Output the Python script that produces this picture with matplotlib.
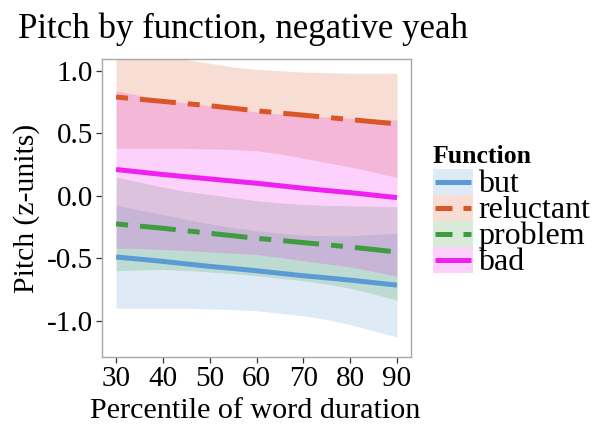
import matplotlib
matplotlib.use("Agg")
import matplotlib.pyplot as plt
from matplotlib.patches import Rectangle
from matplotlib.lines import Line2D

plt.rcParams["font.family"] = ["Liberation Serif", "DejaVu Serif"]

# Percentile of word duration
x = [30, 35, 40, 45, 50, 55, 60, 65, 70, 75, 80, 85, 90]

functions = ["but", "reluctant", "problem", "bad"]

# Fitted pitch (z-units)
fit_but = [-0.49, -0.507, -0.525, -0.545, -0.565, -0.582, -0.60, -0.62,
           -0.64, -0.657, -0.675, -0.695, -0.715]
fit_reluctant = [0.79, 0.772, 0.755, 0.737, 0.72, 0.70, 0.68, 0.662,
                 0.645, 0.627, 0.61, 0.592, 0.575]
fit_problem = [-0.225, -0.243, -0.26, -0.28, -0.30, -0.32, -0.34, -0.357,
               -0.375, -0.392, -0.41, -0.43, -0.45]
fit_bad = [0.21, 0.19, 0.17, 0.152, 0.135, 0.117, 0.10, 0.08, 0.06,
           0.042, 0.025, 0.005, -0.015]

# Confidence band limits
lo_but = [-0.90, -0.90, -0.90, -0.90, -0.905, -0.91, -0.92, -0.94, -0.96,
          -0.99, -1.03, -1.08, -1.13]
hi_but = [-0.075, -0.115, -0.15, -0.19, -0.225, -0.255, -0.28, -0.30,
          -0.315, -0.32, -0.32, -0.31, -0.30]
lo_reluctant = [0.38, 0.38, 0.38, 0.378, 0.375, 0.37, 0.36, 0.335, 0.30,
                0.265, 0.23, 0.19, 0.145]
hi_reluctant = [1.20, 1.16, 1.12, 1.09, 1.06, 1.03, 1.01, 1.00, 0.99,
                0.985, 0.98, 0.98, 0.98]
lo_problem = [-0.60, -0.593, -0.59, -0.597, -0.61, -0.623, -0.64, -0.66,
              -0.68, -0.707, -0.74, -0.785, -0.835]
hi_problem = [0.15, 0.11, 0.07, 0.035, 0.01, -0.015, -0.04, -0.057, -0.07,
              -0.077, -0.08, -0.084, -0.088]
lo_bad = [-0.42, -0.422, -0.43, -0.438, -0.45, -0.46, -0.47, -0.493, -0.52,
          -0.545, -0.57, -0.605, -0.645]
hi_bad = [0.84, 0.803, 0.77, 0.743, 0.72, 0.695, 0.67, 0.653, 0.64, 0.63,
          0.62, 0.612, 0.605]

x_ticks = [30, 40, 50, 60, 70, 80, 90]
y_ticks = [-1.0, -0.5, 0.0, 0.5, 1.0]

fits = [fit_but, fit_reluctant, fit_problem, fit_bad]
lows = [lo_but, lo_reluctant, lo_problem, lo_bad]
highs = [hi_but, hi_reluctant, hi_problem, hi_bad]
colors = ["#5B9BD5", "#DA5627", "#3F9C3F", "#F020F0"]
dotdash = (9.6, (7.2, 2.4, 2.4, 2.4))
styles = ["-", dotdash, dotdash, "-"]

W, H = 597, 424
fig = plt.figure(figsize=(W / 100, H / 100), dpi=100)
ax = fig.add_axes([0.1709, 0.158, 0.5176, 0.7028])

for lo, hi, c in zip(lows, highs, colors):
    ax.fill_between(x, lo, hi, color=c, alpha=0.2, linewidth=0)

for f, c, ls in zip(fits, colors, styles):
    ax.plot(x, f, color=c, linewidth=3.6, linestyle=ls, solid_capstyle="butt",
            dash_capstyle="butt")

ax.set_xlim(27, 93)
ax.set_ylim(-1.29, 1.094)
ax.set_xticks(x_ticks)
ax.set_xticklabels([str(t) for t in x_ticks])
ax.set_yticks(y_ticks)
ax.set_yticklabels([f"{t:.1f}" for t in y_ticks])
ax.tick_params(axis="both", labelsize=21, length=4.5, width=0.9,
               color="#333333", labelcolor="black", pad=2)
for s in ax.spines.values():
    s.set_color("#A8A8A8")
    s.set_linewidth(1.0)

fig.text(18 / W, 1 - 38 / H, "Pitch by function, negative yeah",
         fontsize=25, ha="left", va="baseline")
fig.text(27 / W, 1 - 208 / H, "Pitch (z-units)", fontsize=21.3,
         rotation=90, ha="center", va="center")
fig.text(255 / W, 1 - 418 / H, "Percentile of word duration",
         fontsize=21.7, ha="center", va="baseline")

# Legend: light band swatch with the line drawn over it
fig.text(433 / W, 1 - 163 / H, "Function", fontsize=18.5,
         fontweight="bold", ha="left", va="baseline")
key_left, key_w, key_h, key_top = 433, 40, 26, 169
for i, (name, c, ls) in enumerate(zip(functions, colors, styles)):
    top = key_top + i * key_h
    fig.add_artist(Rectangle((key_left / W, 1 - (top + key_h) / H),
                             key_w / W, key_h / H, transform=fig.transFigure,
                             facecolor=c, alpha=0.2, linewidth=0))
    yc = 1 - (top + key_h / 2) / H
    fig.add_artist(Line2D([(key_left + 2) / W, (key_left + key_w - 2) / W],
                          [yc, yc], transform=fig.transFigure, color=c,
                          linewidth=3.6, solid_capstyle="butt",
                          dash_capstyle="butt",
                          linestyle=("-" if ls == "-" else (0, (3.4, 2.2)))))
    fig.text((key_left + key_w + 5) / W, 1 - (top + key_h / 2 + 10) / H,
             name, fontsize=23, ha="left", va="baseline")

fig.savefig("out.png", dpi=100)
